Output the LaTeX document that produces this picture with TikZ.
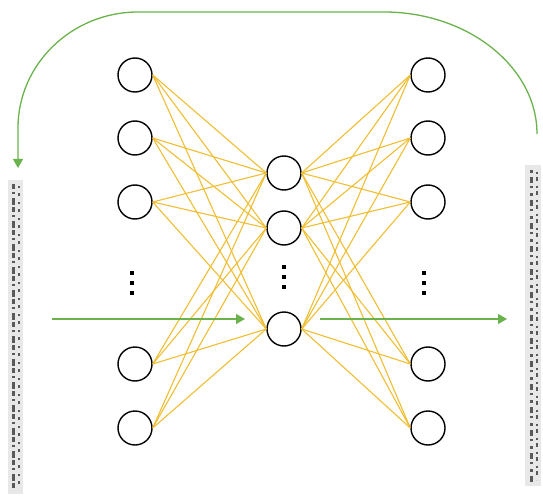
\documentclass[tikz,border=0pt]{standalone}
\usepackage{tikz}
\usetikzlibrary{arrows.meta}
\definecolor{netgold}{RGB}{240,190,50}
\definecolor{netgreen}{RGB}{106,178,76}

\begin{document}
\begin{tikzpicture}[x=1pt,y=-1pt,
    neuron/.style={circle,draw=black,line width=1.4pt,minimum size=34pt,inner sep=0pt},
    weight/.style={draw=netgold,line width=1.1pt},
    flow/.style={draw=netgreen,line width=1.3pt,-{Triangle[length=9pt,width=10pt]}},
    strip/.style={fill=black!9,draw=none},
    blur/.style={draw=black!65,line width=3pt}]

   \useasboundingbox (0,0) rectangle (543,497);

   % side strips (blurred text)
   \fill[strip] (8,180) rectangle (23,494);
   \draw[blur,dash pattern=on 5pt off 3pt on 2pt off 4pt on 7pt off 2pt] (13,184) -- (13,490);
   \draw[blur,line width=1.5pt,dash pattern=on 2pt off 5pt on 3pt off 6pt] (19,186) -- (19,488);
   \fill[strip] (525,165) rectangle (541,486);
   \draw[blur,dash pattern=on 3pt off 4pt on 6pt off 3pt on 2pt off 5pt] (531,170) -- (531,482);
   \draw[blur,line width=1.5pt,dash pattern=on 2pt off 3pt on 4pt off 5pt] (537,172) -- (537,480);

   % layers
   \foreach \n/\y in {1/75,2/138,3/202,4/364,5/428} {
      \node[neuron] (in\n) at (135,\y) {};
      \node[neuron] (out\n) at (428,\y) {};
   }
   \foreach \n/\y in {1/173,2/228,3/329}
      \node[neuron] (mid\n) at (284,\y) {};

   \foreach \i in {1,...,5}
      \foreach \j in {1,2,3} {
         \draw[weight] (in\i.east) -- (mid\j.west);
         \draw[weight] (mid\j.east) -- (out\i.west);
      }

   % dots
   \foreach \x/\y in {132/273,284/267,424/273}
      \foreach \k in {0,1,2}
         \fill (\x-2,\y+10*\k-2) rectangle ++(4,4);

   % green arrows
   \coordinate (inA) at (52,319);
   \coordinate (inB) at (245,319);
   \coordinate (outA) at (320,319);
   \coordinate (outB) at (507,319);
   \coordinate (loopA) at (537,134);
   \coordinate (loopB) at (18,168);
   \draw[flow] (inA) -- (inB);
   \draw[flow] (outA) -- (outB);
   \draw[flow] (loopA) .. controls (537,67) and (468,12) .. (384,12)
      -- (138,12) .. controls (72,12) and (18,64) .. (18,128) -- (loopB);

\end{tikzpicture}
\end{document}
